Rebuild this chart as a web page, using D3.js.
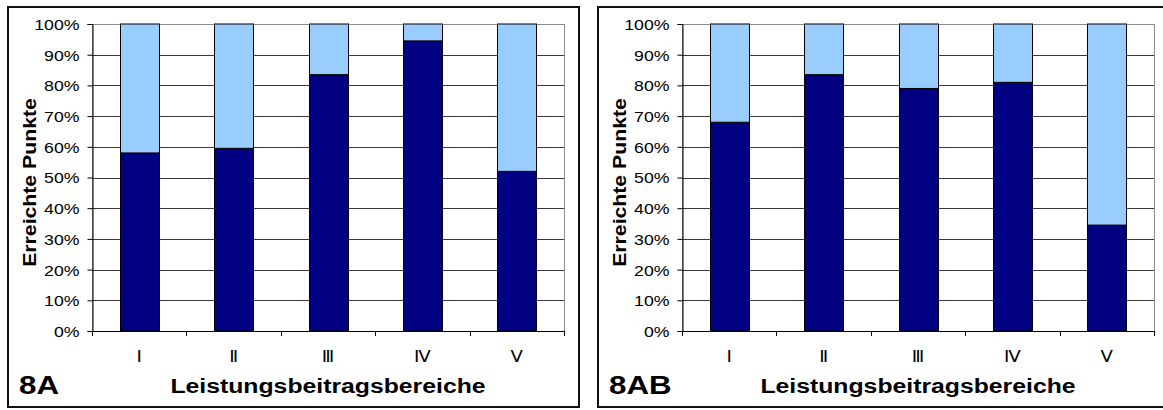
<!DOCTYPE html>
<html>
<head>
<meta charset="utf-8">
<script src="https://cdn.jsdelivr.net/npm/d3@7"></script>
<style>
  body { margin: 0; background: #fff; }
  svg { display: block; }
  text { font-family: "Liberation Sans", Arial, sans-serif; fill: #000; }
  text.numeral { font-family: "DejaVu Sans", sans-serif; }
</style>
</head>
<body>
<svg id="chart" width="1163" height="410"></svg>
<script>
// Performance areas (x categories)
const categories = ["Ⅰ", "Ⅱ", "Ⅲ", "Ⅳ", "Ⅴ"];
// Panel names
const panelNames = ["8A", "8AB"];
// Share of points reached / missed per area, in percent
const reached8A = [58, 59.5, 83.5, 94.5, 52];
const missed8A = [42, 40.5, 16.5, 5.5, 48];
const reached8AB = [68, 83.5, 79, 81, 34.5];
const missed8AB = [32, 16.5, 21, 19, 65.5];
// Y axis ticks
const yTicks = [0, 10, 20, 30, 40, 50, 60, 70, 80, 90, 100];
const yTickLabels = ["0%", "10%", "20%", "30%", "40%", "50%", "60%", "70%", "80%", "90%", "100%"];
const yTitle = "Erreichte Punkte";
const xTitle = "Leistungsbeitragsbereiche";

const COLOR_REACHED = "#000080";
const COLOR_MISSED = "#99CCFF";
const WIDEN = 1.18; // horizontal glyph stretch of the labels

const svg = d3.select("#chart");

const panels = [
  { name: panelNames[0], reached: reached8A, missed: missed8A, frameX: 8, frameW: 571, x0: 92, x1: 564 },
  { name: panelNames[1], reached: reached8AB, missed: missed8AB, frameX: 598, frameW: 600, x0: 682, x1: 1154 }
];

const plotTop = 24, plotBottom = 331;

panels.forEach(p => {
  const g = svg.append("g");

  // chart frame
  g.append("rect")
    .attr("x", p.frameX).attr("y", 7)
    .attr("width", p.frameW).attr("height", 400)
    .attr("fill", "#fff").attr("stroke", "#111").attr("stroke-width", 2);

  const x = d3.scaleBand().domain(categories).range([p.x0, p.x1])
    .paddingInner(0.59).paddingOuter(0.295);
  const y = d3.scaleLinear().domain([0, 100]).range([plotBottom, plotTop]);
  const crisp = v => Math.round(v) + 0.5;

  // plot area border
  g.append("rect")
    .attr("x", crisp(p.x0)).attr("y", crisp(y(100)))
    .attr("width", Math.round(p.x1 - p.x0)).attr("height", Math.round(y(0) - y(100)))
    .attr("fill", "none").attr("stroke", "#8c8c8c").attr("stroke-width", 1);

  // horizontal gridlines
  g.append("g").selectAll("line")
    .data(yTicks.filter(t => t > 0 && t < 100))
    .join("line")
    .attr("x1", p.x0).attr("x2", p.x1)
    .attr("y1", d => crisp(y(d))).attr("y2", d => crisp(y(d)))
    .attr("stroke", "#3a3a3a").attr("stroke-width", 1);

  // stacked bars
  const rows = categories.map((c, i) => ({ cat: c, reached: p.reached[i], missed: p.missed[i] }));
  const series = d3.stack().keys(["reached", "missed"])(rows);
  const colors = { reached: COLOR_REACHED, missed: COLOR_MISSED };
  g.append("g").selectAll("g")
    .data(series)
    .join("g")
    .attr("fill", d => colors[d.key])
    .selectAll("rect")
    .data(d => d)
    .join("rect")
    .attr("x", d => Math.round(x(d.data.cat)) + 0.5)
    .attr("width", Math.round(x.bandwidth()))
    .attr("y", d => y(d[1]))
    .attr("height", d => y(d[0]) - y(d[1]))
    .attr("stroke", "#000").attr("stroke-width", 1);

  // y axis
  const yAxis = d3.axisLeft(y).tickValues(yTicks).tickSize(5).tickPadding(8)
    .tickFormat((d, i) => yTickLabels[i]);
  const ya = g.append("g").attr("transform", `translate(${crisp(p.x0)},0)`).call(yAxis);
  ya.select(".domain").attr("stroke", "#000");
  ya.selectAll(".tick line").attr("stroke", "#000");
  ya.selectAll(".tick text")
    .attr("font-size", 15)
    .attr("x", null).attr("dy", "0.36em")
    .attr("transform", `translate(-13,0) scale(${WIDEN},1)`);

  // x axis: ticks at category boundaries
  g.append("line")
    .attr("x1", p.x0).attr("x2", p.x1 + 1)
    .attr("y1", crisp(plotBottom)).attr("y2", crisp(plotBottom))
    .attr("stroke", "#000");
  const step = x.step();
  g.append("g").selectAll("line")
    .data(d3.range(categories.length + 1))
    .join("line")
    .attr("x1", i => crisp(p.x0 + i * step)).attr("x2", i => crisp(p.x0 + i * step))
    .attr("y1", plotBottom).attr("y2", plotBottom + 5)
    .attr("stroke", "#000");
  g.append("g").selectAll("text")
    .data(categories)
    .join("text")
    .attr("class", "numeral")
    .attr("transform", d => `translate(${x(d) + x.bandwidth() / 2},362) scale(1.1,1)`)
    .attr("text-anchor", "middle")
    .attr("font-size", 16.5)
    .text(d => d);

  // axis titles
  g.append("text")
    .attr("transform", `translate(${p.frameX + 28},${(plotTop + plotBottom) / 2 + 5}) rotate(-90) scale(${WIDEN},1)`)
    .attr("text-anchor", "middle")
    .attr("font-size", 18).attr("font-weight", "bold")
    .text(yTitle);

  g.append("text")
    .attr("transform", `translate(${(p.x0 + p.x1) / 2},393) scale(${WIDEN},1)`)
    .attr("text-anchor", "middle")
    .attr("font-size", 21).attr("font-weight", "bold")
    .text(xTitle);

  // panel label
  g.append("text")
    .attr("transform", `translate(${p.frameX + 11},394) scale(${WIDEN},1)`)
    .attr("font-size", 26.5).attr("font-weight", "bold")
    .text(p.name);
});
</script>
</body>
</html>
